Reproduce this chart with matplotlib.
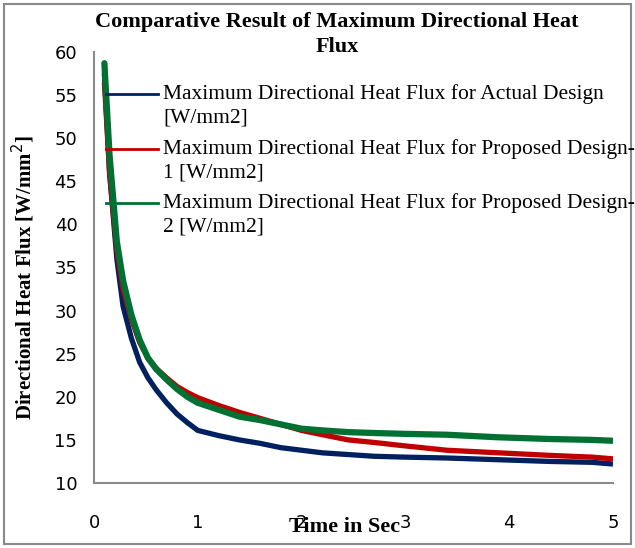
import matplotlib
matplotlib.use("Agg")
import matplotlib.pyplot as plt
from matplotlib.patches import Rectangle

time_s = [0.1, 0.15, 0.22, 0.28, 0.36, 0.44, 0.52, 0.6, 0.7, 0.8, 0.9, 1.0, 1.2, 1.4,
          1.6, 1.8, 2.0, 2.2, 2.45, 2.7, 3.0, 3.4, 3.9, 4.4, 4.8, 5.0]
actual = [57.5, 46, 36, 30.5, 26.8, 24.0, 22.2, 20.8, 19.3, 18.0, 17, 16.1, 15.5, 15.0,
          14.6, 14.1, 13.8, 13.5, 13.3, 13.1, 13.0, 12.9, 12.7, 12.5, 12.4, 12.2]
proposed1 = [56.5, 46, 37, 32.5, 29, 26.3, 24.5, 23.3, 22.2, 21.2, 20.5, 19.9, 19.0, 18.2,
             17.5, 16.8, 16.1, 15.6, 15.0, 14.7, 14.3, 13.8, 13.5, 13.2, 13.0, 12.8]
proposed2 = [58.7, 48, 38, 33.5, 29.5, 26.6, 24.5, 23.2, 22, 20.9, 20.0, 19.3, 18.5, 17.7,
             17.3, 16.8, 16.3, 16.1, 15.9, 15.8, 15.7, 15.6, 15.3, 15.1, 15.0, 14.9]

labels = ["Maximum Directional Heat Flux for Actual Design\n[W/mm2]",
          "Maximum Directional Heat Flux for Proposed Design-\n1 [W/mm2]",
          "Maximum Directional Heat Flux for Proposed Design-\n2 [W/mm2]"]
colors = ["#002060", "#C00000", "#007033"]
xticks = [0, 1, 2, 3, 4, 5]
yticks = [10, 15, 20, 25, 30, 35, 40, 45, 50, 55, 60]

serif = "Liberation Serif"
W, H = 635, 548
fig = plt.figure(figsize=(W/100, H/100), dpi=100)
ax = fig.add_axes([94/W, 1-483/H, (613-94)/W, (483-52)/H])

ax.plot(time_s, actual, color=colors[0], lw=3.8, solid_capstyle="butt")
ax.plot(time_s, proposed1, color=colors[1], lw=3.8, solid_capstyle="butt")
ax.plot(time_s, proposed2, color=colors[2], lw=4.5, solid_capstyle="round")

ax.set_xlim(0, 5)
ax.set_ylim(10, 60)
ax.set_xticks(xticks)
ax.set_yticks(yticks)
ax.tick_params(length=0, labelsize=13)
ax.tick_params(axis="x", pad=22)
ax.tick_params(axis="y", pad=12)
for s in ["top", "right"]:
    ax.spines[s].set_visible(False)
for s in ["left", "bottom"]:
    ax.spines[s].set_color("#898989")
    ax.spines[s].set_linewidth(1.5)

# legend drawn manually (handle aligned with first text line)
leg_y = [94, 149, 203]
for lab, col, yp in zip(labels, colors, leg_y):
    fig.add_artist(plt.Line2D([106/W, 158/W], [1-yp/H, 1-yp/H], color=col, lw=2,
                              transform=fig.transFigure))
    fig.text(163/W, 1-(yp-10)/H, lab, ha="left", va="top", fontsize=15.5,
             family=serif, linespacing=1.3)

fig.text(337/W, 1-12/H, "Comparative Result of Maximum Directional Heat\nFlux",
         ha="center", va="top", fontsize=16, fontweight="bold", family=serif,
         linespacing=1.3)
fig.text(345/W, 1-527/H, "Time in Sec", ha="center", va="center",
         fontsize=16, fontweight="bold", family=serif)
fig.text(23/W, 1-278/H, "Directional Heat Flux [W/mm$^2$]", ha="center", va="center",
         rotation=90, fontsize=15, fontweight="bold", family=serif)

fig.patches.append(Rectangle((4/W, 4/H), 627/W, 540/H, transform=fig.transFigure,
                             fill=False, edgecolor="#898989", lw=1.5))
fig.savefig("out.png", dpi=100)
